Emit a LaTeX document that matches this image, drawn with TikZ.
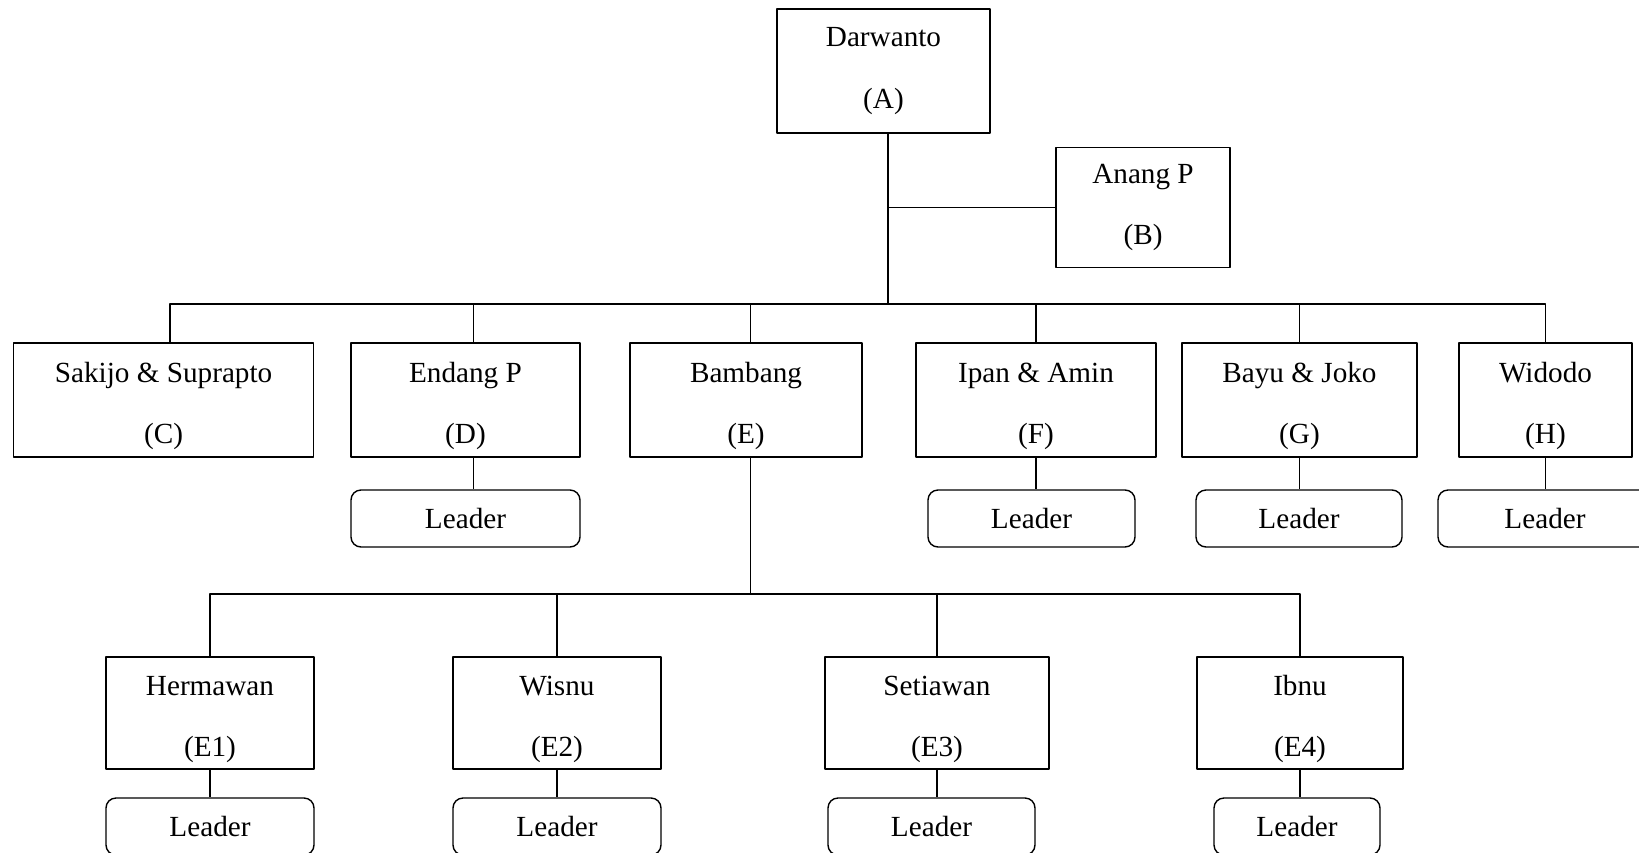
\documentclass[tikz,border=0pt]{standalone}
\usepackage{fontspec}
\setmainfont{Liberation Serif}
\newcommand{\tinggi}{\rule{0pt}{16pt}}
\begin{document}
\begin{tikzpicture}[x=0.5pt, y=-0.5pt, line width=0.7pt, line join=round,
		box/.style={draw, rectangle, align=center, inner sep=0pt,
			font=\fontsize{14.6}{30.8}\selectfont},
		leader/.style={draw, rectangle, rounded corners=5pt, inner sep=0pt,
			minimum height=28.5pt, font=\fontsize{14.6}{17}\selectfont}]
	% Khung gambar
	\useasboundingbox (0,0) rectangle (1639,852);
	
	% Pimpinan
	\node[box, minimum width=106.5pt, minimum height=62pt] (A) at (883.5,71) {Darwanto\\(A)};
	\node[box, minimum width=87pt, minimum height=60pt] (B) at (1143,207.5) {Anang P\\(B)};
	
	% Baris kedua
	\def\yII{400}
	\node[box, minimum width=150pt, minimum height=57pt] (C) at (163.6,\yII) {\tinggi Sakijo \& Suprapto\\(C)};
	\node[box, minimum width=114.5pt, minimum height=57pt] (D) at (465.5,\yII) {\tinggi Endang P\\(D)};
	\node[box, minimum width=116pt, minimum height=57pt] (E) at (746,\yII) {\tinggi Bambang\\(E)};
	\node[box, minimum width=120pt, minimum height=57pt] (F) at (1036,\yII) {\tinggi Ipan \& Amin\\(F)};
	\node[box, minimum width=117.5pt, minimum height=57pt] (G) at (1299.5,\yII) {\tinggi Bayu \& Joko\\(G)};
	\node[box, minimum width=86.5pt, minimum height=57pt] (H) at (1545.5,\yII) {\tinggi Widodo\\(H)};
	
	% Leader baris kedua
	\def\yLII{518.5}
	\node[leader, minimum width=114.5pt] (LD) at (465.5,\yLII) {Leader};
	\node[leader, minimum width=103.5pt] (LF) at (1031.5,\yLII) {Leader};
	\node[leader, minimum width=103pt] (LG) at (1299,\yLII) {Leader};
	\node[leader, minimum width=107pt] (LH) at (1545,\yLII) {Leader};
	
	% Baris ketiga
	\def\yIII{713}
	\node[box, minimum width=104pt, minimum height=56pt] (E1) at (210,\yIII) {\tinggi Hermawan\\(E1)};
	\node[box, minimum width=104pt, minimum height=56pt] (E2) at (557,\yIII) {\tinggi Wisnu\\(E2)};
	\node[box, minimum width=112pt, minimum height=56pt] (E3) at (937,\yIII) {\tinggi Setiawan\\(E3)};
	\node[box, minimum width=103pt, minimum height=56pt] (E4) at (1300,\yIII) {\tinggi Ibnu\\(E4)};
	
	% Leader baris ketiga
	\def\yLIII{826.5}
	\node[leader, minimum width=104pt] (LE1) at (210,\yLIII) {Leader};
	\node[leader, minimum width=104pt] (LE2) at (557,\yLIII) {Leader};
	\node[leader, minimum width=103.5pt] (LE3) at (931.5,\yLIII) {Leader};
	\node[leader, minimum width=83pt] (LE4) at (1297,\yLIII) {Leader};
	
	% Titik sambung
	\coordinate (bus1) at (888,304);
	\coordinate (bus2) at (750.5,594);
	\coordinate (Ctop) at ([xshift=3.2pt]C.north);
	\coordinate (Dtop) at ([xshift=4pt]D.north);
	\coordinate (Dbot) at ([xshift=4pt]D.south);
	\coordinate (Etop) at ([xshift=2.25pt]E.north);
	\coordinate (Ebot) at ([xshift=2.25pt]E.south);
	
	% Garis penghubung
	\draw[line width=1pt] (A.south -| bus1) -- (bus1);
	\draw (B.west) -- (B.west -| bus1);
	\draw (Ctop) |- (bus1) -| (H.north);
	\foreach \n in {Dtop,Etop,F.north,G.north}
		\draw (\n) -- (\n |- bus1);
	\draw (Ebot) -- (bus2);
	\draw (E1.north) |- (bus2) -| (E4.north);
	\foreach \n in {E2,E3}
		\draw (\n.north) -- (\n.north |- bus2);
	\draw (Dbot) -- (Dbot |- LD.north);
	\foreach \n in {F,G,H,E1,E2,E3,E4}
		\draw (\n.south) -- (\n.south |- L\n.north);
\end{tikzpicture}
\end{document}
